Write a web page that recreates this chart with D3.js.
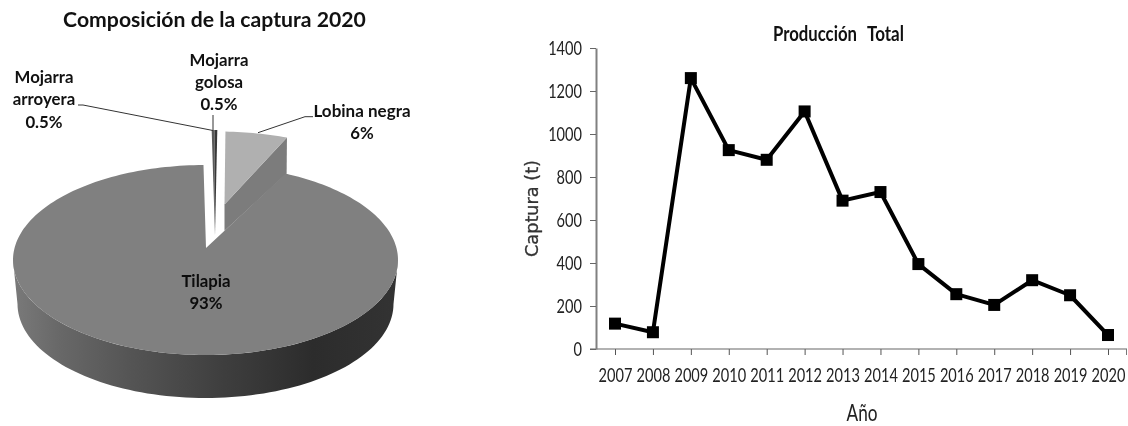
<!DOCTYPE html>
<html><head><meta charset="utf-8">
<script src="https://cdn.jsdelivr.net/npm/d3@7/dist/d3.min.js"></script>
<style>html,body{margin:0;padding:0;background:#fff;overflow:hidden}svg{display:block;filter:blur(0.35px)}</style>
</head><body><svg id="c" width="1128" height="426"></svg>
<script>
// ---- data ----
const pieNames = ["Tilapia", "Mojarra arroyera", "Mojarra golosa", "Lobina negra"];
const pieValues = [93, 0.5, 0.5, 6];
const pieLabels = ["93%", "0.5%", "0.5%", "6%"];
const years = ["2007","2008","2009","2010","2011","2012","2013","2014","2015","2016","2017","2018","2019","2020"];
const capture = [118, 78, 1260, 925, 880, 1105, 690, 730, 395, 255, 205, 320, 250, 65];
const yTicks = [0,200,400,600,800,1000,1200,1400];

const svg = d3.select("#c");
const rad = d => d*Math.PI/180;

// ---- pie ----
const geom = {
  "Tilapia":          {cx:205.5,cy:260,rx:192.5,ry:95,ax:206,ay:248,fill:"#808080"},
  "Mojarra arroyera": {cx:212.6,cy:170,rx:90,ry:40,ax:215,ay:235,fill:"#5a5a5a"},
  "Mojarra golosa":   {cx:212.6,cy:170,rx:90,ry:40,ax:215,ay:235,fill:"#383838"},
  "Lobina negra":     {cx:216.6,cy:198.5,rx:169,ry:67,ax:224.5,ay:204.5,fill:"#b0b0b0"}
};
const arcs = d3.pie().sort(null).startAngle(rad(24.6)).endAngle(rad(384.6))(pieValues);
const proj = (g,t) => [g.cx+g.rx*Math.sin(t), g.cy-g.ry*Math.cos(t)];
const line = d3.line();
const sample = (a,b,n) => d3.range(n+1).map(i => a+(b-a)*i/n);

const defs = svg.append("defs");
const grad = defs.append("linearGradient").attr("id","wall").attr("gradientUnits","userSpaceOnUse")
  .attr("x1",13).attr("x2",398).attr("y1",0).attr("y2",0);
[[0,"#7a7a7a"],[0.12,"#686868"],[0.3,"#555555"],[0.55,"#3e3e3e"],[0.78,"#2c2c2c"],[1,"#333333"]]
  .forEach(([o,c]) => grad.append("stop").attr("offset",o).attr("stop-color",c));

const pieG = svg.append("g");
const T = geom["Tilapia"];
const B = {cx:205.5,cy:304,rx:188,ry:94};
const angs = sample(rad(90),rad(270),90);
pieG.append("path").attr("fill","url(#wall)")
  .attr("d", line(angs.map(t=>proj(T,t)).concat(angs.slice().reverse().map(t=>proj(B,t))))+"Z");

// lobina side wall
const L = geom["Lobina negra"];
const lEnd = proj(L, arcs[0].startAngle);
const tEnd = proj(T, arcs[0].startAngle);
pieG.append("path").attr("fill","#7c7c7c")
  .attr("d", line([[L.ax,L.ay], lEnd, [tEnd[0]+1,tEnd[1]], [L.ax,T.ay+(tEnd[1]-T.ay)*(L.ax-T.ax)/(tEnd[0]-T.ax)]])+"Z");

arcs.forEach((a,i) => {
  const g = geom[pieNames[i]];
  const pts = sample(a.startAngle,a.endAngle,Math.max(4,Math.ceil((a.endAngle-a.startAngle)*40))).map(t=>proj(g,t));
  pieG.append("path").attr("fill",g.fill)
    .attr("d", line([[g.ax,g.ay]].concat(pts))+"Z");
});

// leaders
const leaderData = [
  [[78,105],[83,105],[213,130.5]],
  [[213,115],[213,130]],
  [[258,132.7],[305,116.7],[313,116.7]]
];
pieG.selectAll("path.lead").data(leaderData).join("path").attr("class","lead")
  .attr("fill","none").attr("stroke","#333").attr("stroke-width",1).attr("d",line);

// text helper: optional horizontal squeeze to a target width
const txt = (x,y,s,o={}) => {
  const t = svg.append("text").text(s)
    .attr("text-anchor",o.anchor||"middle")
    .attr("font-family",o.family||"Lato")
    .attr("font-weight",o.weight||"700")
    .attr("font-size",o.size||16.8)
    .attr("fill",o.fill||"#111");
  const k = o.len ? o.len/t.node().getComputedTextLength() : 1;
  t.attr("transform",`translate(${x},${y})${o.rot?` rotate(${o.rot})`:""} scale(${k},1)`);
  return t;
};
txt(214.5,27,"Composición de la captura 2020",{size:21,len:303});
txt(44,83,"Mojarra"); txt(44,105,"arroyera"); txt(44,128,pieLabels[1]);
txt(219,66,"Mojarra"); txt(219,88,"golosa"); txt(219,110,pieLabels[2]);
txt(362,117,"Lobina negra",{len:97}); txt(362,139,pieLabels[3]);
txt(206,287,pieNames[0],{fill:"#0c0c0c"}); txt(206,309,pieLabels[0],{fill:"#0c0c0c"});

// ---- line chart ----
const x = d3.scalePoint().domain(years).range([615,1108]);
const y = d3.scaleLinear().domain([0,1400]).range([349,48]);
const squeeze = 0.73;

const gx = svg.append("g").attr("transform","translate(0,349)")
  .call(d3.axisBottom(x).tickSize(6).tickPadding(13).tickSizeOuter(0));
gx.select(".domain").remove();
gx.selectAll("line").attr("stroke","#555");
gx.append("line").attr("x1",590).attr("x2",1127).attr("stroke","#666").attr("stroke-width",1.2);
gx.append("line").attr("x1",1126.5).attr("x2",1126.5).attr("y2",6).attr("stroke","#777");
gx.selectAll(".tick text").attr("font-family","Lato").attr("font-size",20).attr("fill","#222")
  .attr("transform",`scale(${squeeze},1)`);

const gy = svg.append("g").attr("transform","translate(596,0)")
  .call(d3.axisLeft(y).tickValues(yTicks).tickFormat(d3.format("d")).tickSize(6).tickSizeOuter(0).tickPadding(8));
gy.select(".domain").attr("stroke","#808080").attr("stroke-width",2);
gy.selectAll("line").attr("stroke","#666");
gy.selectAll(".tick text").attr("font-family","Lato").attr("font-size",20).attr("fill","#222")
  .attr("x",-14/squeeze).attr("transform",`scale(${squeeze},1)`);

svg.append("path").datum(capture).attr("fill","none").attr("stroke","#000").attr("stroke-width",4)
  .attr("stroke-linejoin","round")
  .attr("d", d3.line().x((d,i)=>x(years[i])).y(d=>y(d)));
svg.selectAll("rect.pt").data(capture).join("rect").attr("class","pt")
  .attr("x",(d,i)=>x(years[i])-6).attr("y",d=>y(d)-6).attr("width",12).attr("height",12).attr("fill","#000");

txt(773,41,"Producción",{size:21,len:84,anchor:"start"});
txt(867,41,"Total",{size:21,len:37,anchor:"start"});
txt(862,421,"Año",{size:24,weight:"400",len:31,fill:"#222"});
txt(538,208.5,"Captura (t)",{family:"DejaVu Sans",weight:"400",size:18,fill:"#333",len:97,rot:-90})
  .attr("stroke","#333").attr("stroke-width",0.3);
</script></body></html>
